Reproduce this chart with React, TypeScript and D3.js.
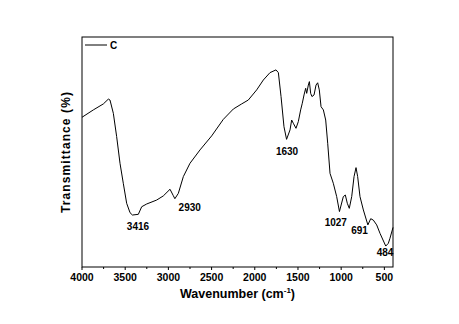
import React from "react";
import * as d3 from "d3";

const wavenumbers = [4000, 3869, 3753, 3695, 3676, 3637, 3599, 3560, 3522, 3483, 3444, 3416, 3348, 3309, 3251, 3136, 3059, 2981, 2943, 2925, 2885, 2827, 2750, 2634, 2499, 2364, 2248, 2152, 2075, 1978, 1901, 1824, 1754, 1727, 1696, 1662, 1632, 1592, 1573, 1554, 1523, 1496, 1469, 1450, 1430, 1411, 1399, 1380, 1368, 1353, 1338, 1314, 1291, 1272, 1253, 1233, 1206, 1179, 1156, 1129, 1091, 1052, 1020, 975, 952, 929, 906, 878, 851, 828, 809, 782, 743, 691, 658, 628, 589, 550, 484, 454, 435, 400];
const transmittance = [65.1, 68.3, 70.9, 73.0, 72.6, 66.8, 56.7, 45.1, 36.4, 27.7, 23.6, 22.6, 22.9, 26.2, 27.4, 29.1, 30.9, 33.8, 31.0, 29.7, 32.0, 39.3, 45.1, 50.9, 57.0, 64.2, 68.7, 70.9, 72.6, 77.0, 81.3, 84.5, 85.7, 84.5, 74.1, 61.0, 55.5, 59.6, 63.9, 62.5, 60.3, 63.2, 68.3, 71.2, 74.8, 77.7, 75.5, 79.1, 80.6, 75.5, 74.1, 74.8, 79.1, 80.1, 77.0, 69.7, 68.3, 63.9, 53.8, 40.7, 36.4, 30.6, 24.1, 30.6, 31.3, 27.7, 25.5, 30.6, 39.3, 43.2, 39.3, 30.6, 24.8, 18.3, 21.0, 20.4, 18.3, 14.6, 9.1, 10.3, 12.5, 17.2];

const xTicks = [4000, 3500, 3000, 2500, 2000, 1500, 1000, 500];
const xMinorTicks = [3750, 3250, 2750, 2250, 1750, 1250, 750];

const peakLabels = ["3416", "2930", "1630", "1027", "691", "484"];
const peakWn = [3352, 2753, 1627, 1062, 787, 492];
const peakY = [15.9, 24.3, 48.5, 18, 14.4, 4.8];

const seriesName = "C";

export default function App() {
  const left = 82, right = 393, top = 37, bottom = 267;
  const x = d3.scaleLinear().domain([4000, 400]).range([left, right]);
  const y = d3.scaleLinear().domain([0, 100]).range([bottom, top]);
  const data = wavenumbers.map((w, i) => [w, transmittance[i]] as [number, number]);
  const line = d3.line<[number, number]>().x(d => x(d[0])).y(d => y(d[1]));
  const font = "'Liberation Sans', Arial, sans-serif";

  return (
    <svg width={459} height={324} style={{ position: "absolute", left: 0, top: 0, background: "#fff" }}>
      <rect x={left} y={top} width={right - left} height={bottom - top} fill="none" stroke="#000" strokeWidth={1} />
      <path d={line(data) || ""} fill="none" stroke="#000" strokeWidth={1} />
      {xTicks.map(t => (
        <g key={t}>
          <line x1={x(t)} x2={x(t)} y1={bottom} y2={bottom + 3} stroke="#000" />
          <text x={x(t)} y={bottom + 14} textAnchor="middle" fontFamily={font} fontWeight="bold" fontSize={10.5}>{t}</text>
        </g>
      ))}
      {xMinorTicks.map(t => (
        <line key={t} x1={x(t)} x2={x(t)} y1={bottom} y2={bottom + 2} stroke="#000" />
      ))}
      <text x={(left + right) / 2} y={298} textAnchor="middle" fontFamily={font} fontWeight="bold" fontSize={12.5}>
        Wavenumber (cm<tspan dy={-5} fontSize={8}>-1</tspan><tspan dy={5}>)</tspan>
      </text>
      <text transform={`translate(70, ${(top + bottom) / 2}) rotate(-90)`} textAnchor="middle" fontFamily={font} fontWeight="bold" fontSize={12} letterSpacing={1.1}>
        Transmittance (%)
      </text>
      {peakLabels.map((l, i) => (
        <text key={l} x={x(peakWn[i])} y={y(peakY[i])} textAnchor="middle" fontFamily={font} fontWeight="bold" fontSize={10}>{l}</text>
      ))}
      <line x1={85} x2={107} y1={45} y2={45} stroke="#000" />
      <text x={110} y={49} fontFamily={font} fontWeight="bold" fontSize={10}>{seriesName}</text>
    </svg>
  );
}
